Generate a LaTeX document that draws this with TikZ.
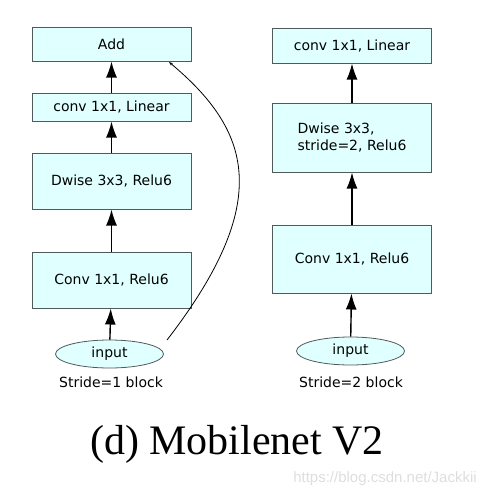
\documentclass[tikz,border=0pt]{standalone}
\usepackage{fontspec}
\setmainfont{DejaVu Sans}
\newfontfamily\capfont{Liberation Serif}
\newfontfamily\markfont{Liberation Sans}
\usetikzlibrary{arrows.meta,shapes.geometric}
\definecolor{boxfill}{RGB}{224,255,255}
\definecolor{boxline}{RGB}{80,90,90}

\begin{document}
\begin{tikzpicture}[x=1pt,y=-1pt,
    layer/.style={draw=boxline,fill=boxfill,line width=1pt,minimum width=159pt,font=\fontsize{14}{17}\selectfont,align=left,inner sep=0pt},
    inp/.style={ellipse,draw=boxline,fill=boxfill,line width=0.8pt,minimum width=108pt,minimum height=28pt,inner sep=0pt,font=\fontsize{14}{17}\selectfont},
    flow/.style={line width=1.4pt,-{Latex[length=16pt,width=11pt]}},
    lbl/.style={font=\fontsize{14}{17}\selectfont}]
      \useasboundingbox (0,0) rectangle (490,498);

      % stride 1 block
      \node[layer,minimum height=34pt] (add) at (111.5,44) {Add};
      \node[layer,minimum height=28pt] (lin1) at (111.5,107) {conv 1x1, Linear};
      \node[layer,minimum height=56pt] (dw1) at (111.5,181) {Dwise 3x3, Relu6};
      \node[layer,minimum height=56pt] (pw1) at (111.5,280) {Conv 1x1, Relu6};
      \node[inp] (in1) at (109.5,354) {input};
      \node[lbl] (s1) at (111,382) {Stride=1 block};
      \coordinate (skip) at (167,340);
      \coordinate (skipend) at (169,62);

      \draw[flow] (in1) -- (pw1);
      \draw[flow] (pw1) -- (dw1);
      \draw[flow] (dw1) -- (lin1);
      \draw[flow] (lin1) -- (add);
      \draw[line width=0.8pt,-{Stealth[length=4pt,width=3pt]}] (skip) .. controls (275,200) and (250,130) .. (skipend);

      % stride 2 block
      \node[layer,minimum height=35pt] (lin2) at (352,45.5) {conv 1x1, Linear};
      \node[layer,minimum height=69pt] (dw2) at (352,137.5) {Dwise 3x3,\\stride=2, Relu6};
      \node[layer,minimum height=68pt] (pw2) at (352,259) {Conv 1x1, Relu6};
      \node[inp] (in2) at (350.5,351) {input};
      \node[lbl] (s2) at (351,382) {Stride=2 block};

      \draw[flow] (in2) -- (pw2);
      \draw[flow] (pw2) -- (dw2);
      \draw[flow] (dw2) -- (lin2);

      \node[font=\capfont\fontsize{42}{50}\selectfont] (cap) at (237,444) {(d) Mobilenet V2};
      \node[font=\markfont\fontsize{15}{18}\selectfont,text=black!13] (mark) at (385,479) {https://blog.csdn.net/Jackkii};
\end{tikzpicture}
\end{document}
